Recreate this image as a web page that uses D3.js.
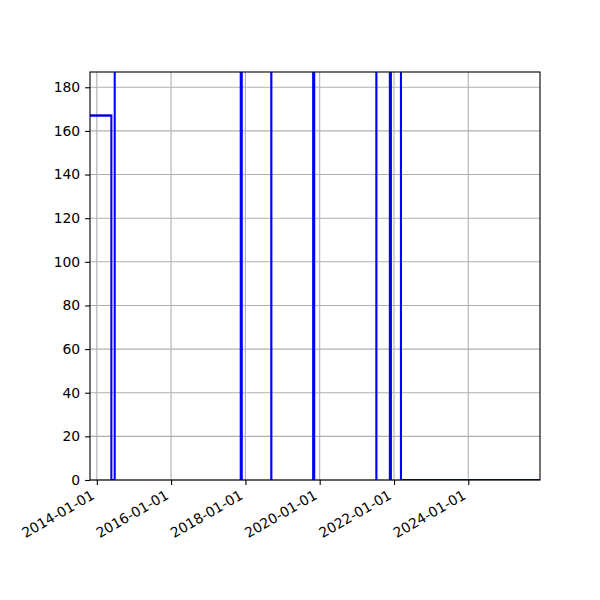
<!DOCTYPE html>
<html>
<head>
<meta charset="utf-8">
<script src="https://cdn.jsdelivr.net/npm/d3@7"></script>
<style>
  body { margin: 0; background: #fff; }
  svg { font-family: "DejaVu Sans", sans-serif; }
</style>
</head>
<body>
<svg id="chart" width="600" height="600"></svg>
<script>
// step series, values above the y limit run off the top of the axes
var dates = ["2013-10-26", "2014-05-24", "2014-06-26", "2017-11-16", "2017-11-26",
             "2018-09-12", "2018-09-13", "2019-10-29", "2019-11-08", "2021-07-11",
             "2021-07-12", "2021-11-21", "2021-12-01", "2022-03-10", "2025-12-06"];
var values = [167, 0, 1500, 0, 1500,
              0, 1500, 0, 1500, 0,
              1500, 0, 1500, 0, 0];
// thin dark series lying on top of the first step
var refDates = ["2013-10-26", "2014-05-24"];
var refValues = [167, 167];
var xTicks = ["2014-01-01", "2016-01-01", "2018-01-01", "2020-01-01", "2022-01-01", "2024-01-01"];
var yTicks = [0, 20, 40, 60, 80, 100, 120, 140, 160, 180];
var xLimits = ["2013-10-26", "2025-12-06"];
var yLimits = [0, 187];

var parse = d3.utcParse("%Y-%m-%d");
var fmt = d3.utcFormat("%Y-%m-%d");

var plotLeft = 90, plotRight = 540, plotTop = 72, plotBottom = 480;
var svg = d3.select("#chart");

var x = d3.scaleUtc()
          .domain(xLimits.map(parse))
          .range([plotLeft, plotRight]);
var y = d3.scaleLinear()
          .domain(yLimits)
          .range([plotBottom, plotTop]);

svg.append("defs").append("clipPath")
    .attr("id", "clip")
  .append("rect")
    .attr("x", plotLeft)
    .attr("y", plotTop)
    .attr("width", plotRight - plotLeft)
    .attr("height", plotBottom - plotTop);

// grid
var grid = svg.append("g").attr("stroke", "#b0b0b0").attr("stroke-width", 1.1);
grid.selectAll(".gx")
    .data(xTicks)
  .enter().append("line")
    .attr("x1", d => x(parse(d)))
    .attr("x2", d => x(parse(d)))
    .attr("y1", plotTop)
    .attr("y2", plotBottom);
grid.selectAll(".gy")
    .data(yTicks)
  .enter().append("line")
    .attr("x1", plotLeft)
    .attr("x2", plotRight)
    .attr("y1", d => y(d))
    .attr("y2", d => y(d));

var points = dates.map((d, i) => ({date: parse(d), value: values[i]}));
var refPoints = refDates.map((d, i) => ({date: parse(d), value: refValues[i]}));

var line = d3.line()
             .x(d => x(d.date))
             .y(d => y(d.value))
             .curve(d3.curveStepAfter);

svg.append("path")
    .datum(points)
    .attr("clip-path", "url(#clip)")
    .attr("fill", "none")
    .attr("stroke", "#0000ff")
    .attr("stroke-width", 2.08)
    .attr("d", line);

svg.append("path")
    .datum(refPoints)
    .attr("clip-path", "url(#clip)")
    .attr("fill", "none")
    .attr("stroke", "#000080")
    .attr("stroke-width", 1)
    .attr("transform", "translate(0,-0.5)")
    .attr("d", line);

// axes
var xAxis = d3.axisBottom(x)
              .tickValues(xTicks.map(parse))
              .tickFormat(fmt)
              .tickSize(4.9)
              .tickPadding(4.9);
var gx = svg.append("g")
    .attr("transform", "translate(0," + plotBottom + ")")
    .call(xAxis);
gx.select(".domain").remove();
gx.selectAll("line").attr("stroke", "#000").attr("stroke-width", 1.1);
gx.selectAll("text")
    .attr("fill", "#000")
    .attr("font-size", "13.9px")
    .attr("dy", null)
    .attr("y", null)
    .style("text-anchor", "end")
    .attr("transform", "translate(-2,18) rotate(-30)");

var yAxis = d3.axisLeft(y)
              .tickValues(yTicks)
              .tickSize(4.9)
              .tickPadding(4.9);
var gy = svg.append("g")
    .attr("transform", "translate(" + plotLeft + ",0)")
    .call(yAxis);
gy.select(".domain").remove();
gy.selectAll("line").attr("stroke", "#000").attr("stroke-width", 1.1);
gy.selectAll("text")
    .attr("fill", "#000")
    .attr("font-size", "13.9px");

svg.selectAll("text").attr("font-family", "DejaVu Sans");

// spines
svg.append("rect")
    .attr("x", plotLeft)
    .attr("y", plotTop)
    .attr("width", plotRight - plotLeft)
    .attr("height", plotBottom - plotTop)
    .attr("fill", "none")
    .attr("stroke", "#000")
    .attr("stroke-width", 1.1);
</script>
</body>
</html>
